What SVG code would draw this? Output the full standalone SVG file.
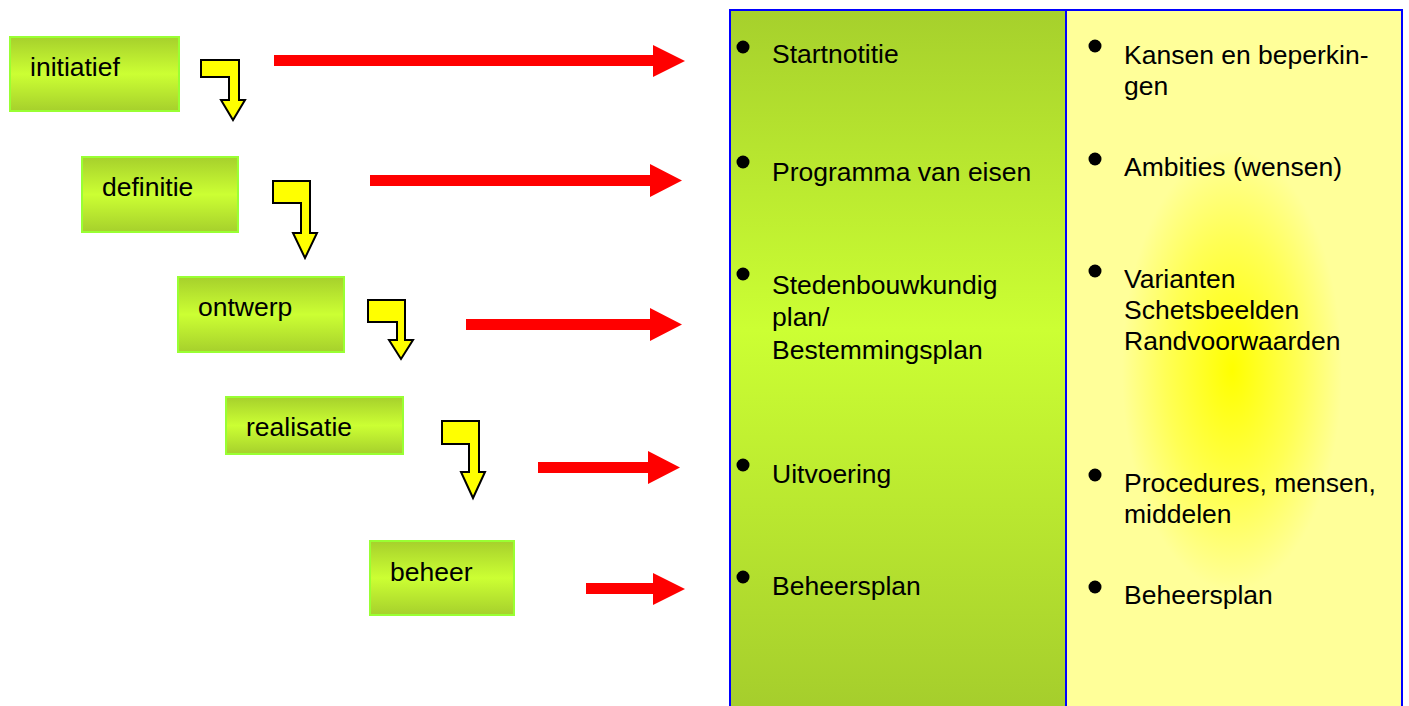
<svg xmlns="http://www.w3.org/2000/svg" width="1409" height="706" viewBox="0 0 1409 706">
<defs>
<linearGradient id="boxg" x1="0" y1="0" x2="0" y2="1">
<stop offset="0" stop-color="#a6d02c"/>
<stop offset="0.5" stop-color="#ccff33"/>
<stop offset="1" stop-color="#a6d02c"/>
</linearGradient>
<linearGradient id="colg" gradientUnits="userSpaceOnUse" x1="0" y1="10" x2="0" y2="720">
<stop offset="0" stop-color="#a6d02c"/>
<stop offset="0.45" stop-color="#ccff33"/>
<stop offset="1" stop-color="#a4cc2c"/>
</linearGradient>
<radialGradient id="yelg" gradientUnits="userSpaceOnUse" cx="1232" cy="370" r="110" gradientTransform="translate(1232 370) scale(1 2) translate(-1232 -370)">
<stop offset="0" stop-color="#ffff00"/>
<stop offset="0.6" stop-color="#ffff55"/>
<stop offset="1" stop-color="#ffff99"/>
</radialGradient>
<style>
.box{fill:url(#boxg);stroke:#99ff33;stroke-width:2}
.lbl{font-family:"Liberation Sans",Arial,sans-serif;font-size:26.5px;fill:#000}
.yarr{fill:#ffff00;stroke:#000;stroke-width:2;stroke-linejoin:miter}
.rarr{fill:#ff0000}
.bul{fill:#000}
</style>
</defs>
<rect width="1409" height="706" fill="#fff"/>

<g id="table">
<rect x="730" y="10" width="336" height="710" fill="url(#colg)"/>
<rect x="1066" y="10" width="336" height="710" fill="#ffff99"/>
<rect x="1066" y="10" width="336" height="710" fill="url(#yelg)"/>
<path d="M730 720 V10 H1402 V720 M1066 10 V720" fill="none" stroke="#0000ff" stroke-width="2"/>
</g>

<g id="col-left">
<circle class="bul" cx="743" cy="47" r="6.5"/>
<text class="lbl" x="772" y="63">Startnotitie</text>
<circle class="bul" cx="743" cy="162" r="6.5"/>
<text class="lbl" x="772" y="181">Programma van eisen</text>
<circle class="bul" cx="743" cy="274" r="6.5"/>
<text class="lbl" x="772" y="294">Stedenbouwkundig</text>
<text class="lbl" x="772" y="326">plan/</text>
<text class="lbl" x="772" y="359">Bestemmingsplan</text>
<circle class="bul" cx="743" cy="465" r="6.5"/>
<text class="lbl" x="772" y="483">Uitvoering</text>
<circle class="bul" cx="743" cy="577" r="6.5"/>
<text class="lbl" x="772" y="595">Beheersplan</text>
</g>

<g id="col-right">
<circle class="bul" cx="1095" cy="46" r="6.5"/>
<text class="lbl" x="1124" y="64">Kansen en beperkin-</text>
<text class="lbl" x="1124" y="95">gen</text>
<circle class="bul" cx="1095" cy="159" r="6.5"/>
<text class="lbl" x="1124" y="176">Ambities (wensen)</text>
<circle class="bul" cx="1095" cy="271" r="6.5"/>
<text class="lbl" x="1124" y="288">Varianten</text>
<text class="lbl" x="1124" y="319">Schetsbeelden</text>
<text class="lbl" x="1124" y="350">Randvoorwaarden</text>
<circle class="bul" cx="1095" cy="475" r="6.5"/>
<text class="lbl" x="1124" y="492">Procedures, mensen,</text>
<text class="lbl" x="1124" y="523">middelen</text>
<circle class="bul" cx="1095" cy="587" r="6.5"/>
<text class="lbl" x="1124" y="604">Beheersplan</text>
</g>

<g id="node-initiatief">
<rect class="box" x="10" y="37" width="169" height="74"/>
<text class="lbl" x="30" y="76">initiatief</text>
</g>
<g id="node-definitie">
<rect class="box" x="82" y="157" width="156" height="75"/>
<text class="lbl" x="102" y="196">definitie</text>
</g>
<g id="node-ontwerp">
<rect class="box" x="178" y="277" width="166" height="75"/>
<text class="lbl" x="198" y="316">ontwerp</text>
</g>
<g id="node-realisatie">
<rect class="box" x="226" y="397" width="177" height="57"/>
<text class="lbl" x="246" y="436">realisatie</text>
</g>
<g id="node-beheer">
<rect class="box" x="370" y="541" width="144" height="74"/>
<text class="lbl" x="390" y="581">beheer</text>
</g>

<g id="connectors">
<polygon class="yarr" points="201,60 239,60 239,100 245,100 233,120 221,100 229,100 229,77 201,77"/>
<polygon class="yarr" points="273,181 310,181 310,233 317,233 305,258 293,233 301,233 301,203 273,203"/>
<polygon class="yarr" points="368,300 405,300 405,340 413,340 401,359 389,340 397,340 397,322 368,322"/>
<polygon class="yarr" points="442,421 479,421 479,472 485,472 473,498 461,472 469,472 469,444 442,444"/>
<polygon class="rarr" points="274,55 653,55 653,45 685,61 653,77 653,66 274,66"/>
<polygon class="rarr" points="370,175 650,175 650,164 682,180.5 650,197 650,186 370,186"/>
<polygon class="rarr" points="466,319 650,319 650,308 682,324.5 650,341 650,330 466,330"/>
<polygon class="rarr" points="538,462 648,462 648,451 680,467.5 648,484 648,473 538,473"/>
<polygon class="rarr" points="586,583 653,583 653,573 685,589 653,605 653,594 586,594"/>
</g>
</svg>
